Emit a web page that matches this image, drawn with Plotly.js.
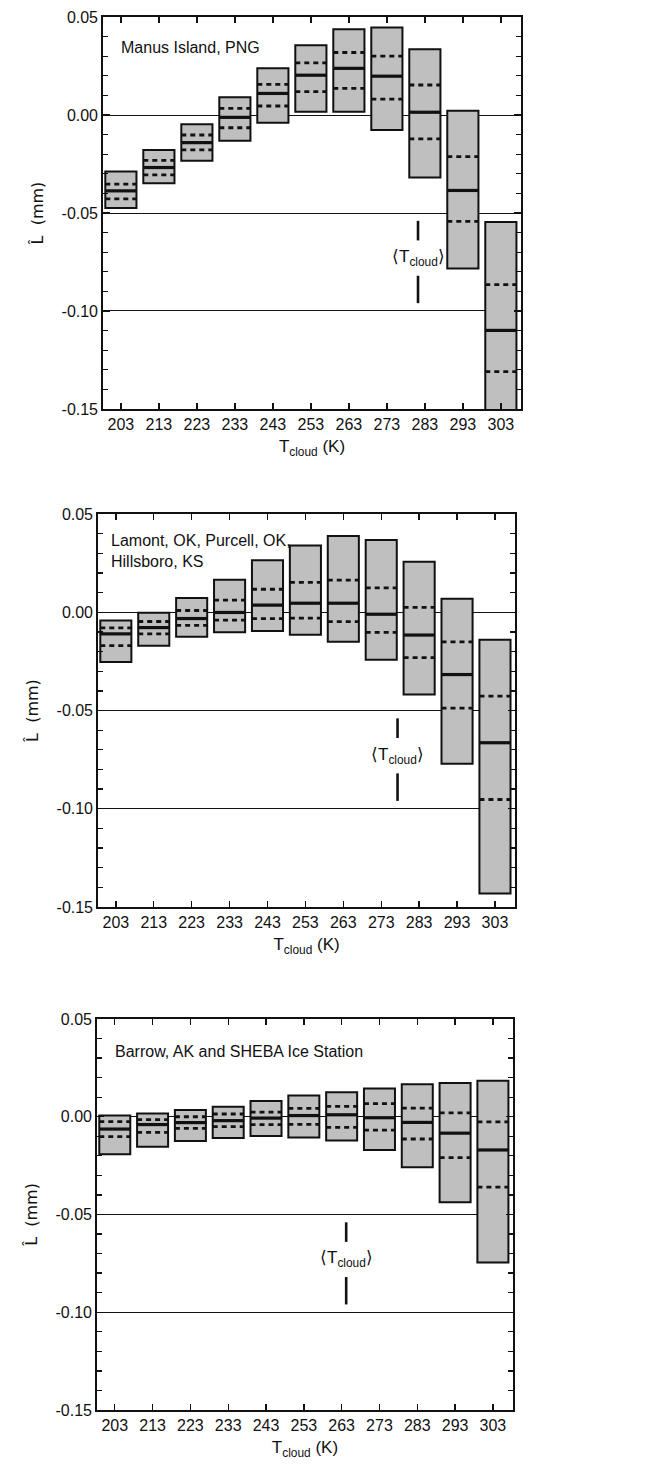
<!DOCTYPE html>
<html>
<head>
<meta charset="utf-8">
<script src="https://cdn.plot.ly/plotly-3.0.1.min.js"></script>
<style>
html,body{margin:0;padding:0;background:#fff;}
#chart{width:653px;height:1476px;}
</style>
</head>
<body>
<div id="chart"></div>
<script>
// ---------- data ----------
const temps = [203, 213, 223, 233, 243, 253, 263, 273, 283, 293, 303];
const tickLabelsY = ["-0.15", "-0.10", "-0.05", "0.00", "0.05"];
const tickValsY = [-0.15, -0.10, -0.05, 0.00, 0.05];

const panelNames = [
  "Manus Island, PNG",
  "Lamont, OK, Purcell, OK,<br>Hillsboro, KS",
  "Barrow, AK and SHEBA Ice Station"
];

// Panel 1: Manus Island
const p1Top    = [-0.0288, -0.0178, -0.0047, 0.0090, 0.0238, 0.0356, 0.0437, 0.0446, 0.0336, 0.0022, -0.0546];
const p1Upper  = [-0.0353, -0.0232, -0.0102, 0.0034, 0.0156, 0.0266, 0.0319, 0.0300, 0.0153, -0.0212, -0.0865];
const p1Median = [-0.0387, -0.0268, -0.0141, -0.0012, 0.0110, 0.0203, 0.0238, 0.0198, 0.0014, -0.0385, -0.1099];
const p1Lower  = [-0.0428, -0.0305, -0.0178, -0.0065, 0.0046, 0.0119, 0.0136, 0.0081, -0.0122, -0.0543, -0.1309];
const p1Bottom = [-0.0475, -0.0348, -0.0234, -0.0132, -0.0039, 0.0017, 0.0017, -0.0076, -0.0319, -0.0783, -0.1600];

// Panel 2: Lamont / Purcell / Hillsboro
const p2Top    = [-0.0042, -0.0002, 0.0073, 0.0166, 0.0265, 0.0340, 0.0388, 0.0368, 0.0257, 0.0069, -0.0140];
const p2Upper  = [-0.0079, -0.0047, 0.0009, 0.0062, 0.0117, 0.0152, 0.0164, 0.0124, 0.0025, -0.0151, -0.0427];
const p2Median = [-0.0110, -0.0078, -0.0032, -0.0001, 0.0036, 0.0046, 0.0046, -0.0010, -0.0116, -0.0317, -0.0664];
const p2Lower  = [-0.0170, -0.0110, -0.0067, -0.0040, -0.0032, -0.0030, -0.0048, -0.0102, -0.0231, -0.0488, -0.0953];
const p2Bottom = [-0.0253, -0.0170, -0.0125, -0.0102, -0.0095, -0.0115, -0.0150, -0.0242, -0.0418, -0.0771, -0.1431];

// Panel 3: Barrow / SHEBA
const p3Top    = [0.0006, 0.0016, 0.0034, 0.0051, 0.0080, 0.0108, 0.0125, 0.0145, 0.0166, 0.0173, 0.0184];
const p3Upper  = [-0.0025, -0.0015, 0.0000, 0.0014, 0.0024, 0.0043, 0.0053, 0.0067, 0.0044, 0.0020, -0.0026];
const p3Median = [-0.0063, -0.0040, -0.0030, -0.0020, -0.0007, 0.0006, 0.0010, -0.0005, -0.0029, -0.0084, -0.0170];
const p3Lower  = [-0.0102, -0.0080, -0.0060, -0.0051, -0.0040, -0.0039, -0.0054, -0.0068, -0.0114, -0.0209, -0.0360];
const p3Bottom = [-0.0192, -0.0154, -0.0124, -0.0109, -0.0099, -0.0106, -0.0122, -0.0170, -0.0258, -0.0437, -0.0746];

// mean cloud temperature marker per panel
const meanT = [281.2, 277.3, 264.2];
const markerSegUpper = [-0.054, -0.064];
const markerSegLower = [-0.082, -0.096];
const markerTextY = -0.073;

// ---------- build ----------
const panels = [
  {top: p1Top, up: p1Upper, med: p1Median, low: p1Lower, bot: p1Bottom},
  {top: p2Top, up: p2Upper, med: p2Median, low: p2Lower, bot: p2Bottom},
  {top: p3Top, up: p3Upper, med: p3Median, low: p3Lower, bot: p3Bottom}
];

const BOXW = 8.2;
const FONT = "Liberation Sans, Arial, Helvetica, sans-serif";

function segs(vals) {
  const xs = [], ys = [];
  temps.forEach((t, i) => {
    xs.push(t - BOXW / 2, t + BOXW / 2, null);
    ys.push(vals[i], vals[i], null);
  });
  return {x: xs, y: ys};
}

const traces = [];
const annotations = [];
panels.forEach((p, k) => {
  const xa = k === 0 ? 'x' : 'x' + (k + 1);
  const ya = k === 0 ? 'y' : 'y' + (k + 1);
  traces.push({
    type: 'bar', x: temps, base: p.bot,
    y: p.top.map((v, i) => v - p.bot[i]),
    width: BOXW, xaxis: xa, yaxis: ya, showlegend: false, hoverinfo: 'skip',
    marker: {color: '#bfbfbf', line: {color: '#111', width: 2}}
  });
  const m = segs(p.med), u = segs(p.up), l = segs(p.low);
  traces.push({type: 'scatter', mode: 'lines', x: m.x, y: m.y, xaxis: xa, yaxis: ya,
    showlegend: false, hoverinfo: 'skip', line: {color: '#111', width: 3.2}});
  [u, l].forEach(s => traces.push({type: 'scatter', mode: 'lines', x: s.x, y: s.y, xaxis: xa, yaxis: ya,
    showlegend: false, hoverinfo: 'skip', line: {color: '#111', width: 2.8, dash: '5px,4px'}}));
  // mean temperature marker
  traces.push({type: 'scatter', mode: 'lines', xaxis: xa, yaxis: ya, showlegend: false, hoverinfo: 'skip',
    x: [meanT[k], meanT[k], null, meanT[k], meanT[k]],
    y: [markerSegUpper[0], markerSegUpper[1], null, markerSegLower[0], markerSegLower[1]],
    line: {color: '#111', width: 2.6}});
  annotations.push({xref: xa, yref: ya, x: meanT[k], y: markerTextY,
    text: '\u27E8T<sub>cloud</sub>\u27E9', showarrow: false, xanchor: 'center', yanchor: 'middle',
    font: {family: FONT, size: 17, color: '#111'}});
});

// panel labels
const labelPos = [[0.038, 0.923], [0.026, 0.905], [0.038, 0.916]];
panelNames.forEach((n, k) => {
  const xa = k === 0 ? 'x' : 'x' + (k + 1);
  const ya = k === 0 ? 'y' : 'y' + (k + 1);
  annotations.push({xref: xa + ' domain', yref: ya + ' domain', x: labelPos[k][0], y: labelPos[k][1],
    text: n, showarrow: false, xanchor: 'left', yanchor: 'middle', align: 'left',
    font: {family: FONT, size: 16, color: '#111'}});
});

function xAxis(domain, anchor) {
  return {
    domain: domain, anchor: anchor, range: [198.3, 308.3],
    tickmode: 'array', tickvals: temps, ticktext: temps.map(String),
    ticks: 'inside', ticklen: 6, tickwidth: 1.4, tickcolor: '#111',
    showline: true, linecolor: '#111', linewidth: 1.8, mirror: 'allticks',
    showgrid: false, zeroline: false,
    tickfont: {family: FONT, size: 16, color: '#111'},
    title: {text: 'T<sub>cloud</sub> (K)', font: {family: FONT, size: 17, color: '#111'}, standoff: 8}
  };
}
function yAxis(domain, anchor) {
  return {
    domain: domain, anchor: anchor, range: [-0.15, 0.05],
    tickmode: 'array', tickvals: tickValsY, ticktext: tickLabelsY,
    ticks: 'inside', ticklen: 7, tickwidth: 1.4, tickcolor: '#111',
    minor: {dtick: 0.01, tick0: 0, ticks: 'inside', ticklen: 5, tickwidth: 1.3, tickcolor: '#111', showgrid: false},
    showline: true, linecolor: '#111', linewidth: 1.8, mirror: 'allticks',
    showgrid: true, gridcolor: '#111', gridwidth: 1, zeroline: false,
    tickfont: {family: FONT, size: 16, color: '#111'},
    title: {text: 'L\u0302  (mm)', font: {family: 'DejaVu Sans, sans-serif', size: 16, color: '#111'}, standoff: 14}
  };
}

const layout = {
  width: 653, height: 1476,
  margin: {l: 97, r: 132, t: 17, b: 66},
  paper_bgcolor: '#fff', plot_bgcolor: '#fff',
  barmode: 'overlay',
  showlegend: false,
  xaxis: xAxis([0.0142, 1.0], 'y'),
  yaxis: yAxis([0.7186, 1.0], 'x'),
  xaxis2: xAxis([0.0024, 0.986], 'y2'),
  yaxis2: yAxis([0.3611, 0.6432], 'x2'),
  xaxis3: xAxis([0.0, 0.981], 'y3'),
  yaxis3: yAxis([0.0, 0.2807], 'x3'),
  annotations: annotations
};

Plotly.newPlot('chart', traces, layout, {staticPlot: true, displayModeBar: false});
</script>
</body>
</html>
